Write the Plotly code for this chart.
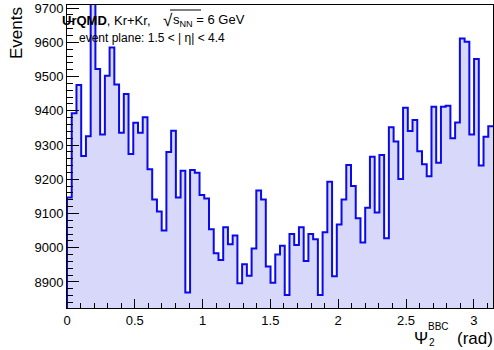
import numpy as np
import plotly.graph_objects as go

# Event-plane angle histogram: 90 bins over [0, pi]
n_bins = 90
psi_min, psi_max = 0.0, np.pi
counts = [
    9147, 9393, 9475, 9268, 9326, 9720, 9522, 9331, 9502, 9585,
    9477, 9336, 9449, 9274, 9365, 9336, 9381, 9229, 9141, 9106,
    9050, 9280, 9342, 9147, 9225, 8869, 9227, 9219, 9154, 9144,
    9054, 8984, 8964, 9060, 9010, 9036, 8896, 8952, 8918, 8998,
    9167, 9141, 8945, 8898, 8980, 9006, 8862, 9040, 9008, 9060,
    8961, 9040, 9025, 8862, 9045, 9193, 8917, 9068, 9141, 9242,
    9180, 9086, 9015, 9117, 9266, 9103, 9271, 9028, 9352, 9310,
    9201, 9409, 9341, 9373, 9282, 9244, 9209, 9412, 9248, 9412,
    9415, 9320, 9366, 9611, 9602, 9331, 9551, 9240, 9324, 9355,
]
y_range = [8824, 9709]
x_ticks = [0, 0.5, 1, 1.5, 2, 2.5, 3]
x_ticklabels = ["0", "0.5", "1", "1.5", "2", "2.5", "3"]
y_ticks = list(range(8900, 9701, 100))

edges = np.linspace(psi_min, psi_max, n_bins + 1)
# step outline: start on the frame floor, then one point per bin, close at the last edge
xs = [edges[0]] + list(edges[:-1]) + [edges[-1]]
ys = [y_range[0]] + list(counts) + [counts[-1]]

W, H = 494, 350
L, R, T, B = 67, 1, 5, 42
PW, PH = W - L - R, H - T - B


def px(x):
    return (x - L) / PW


def py(y):
    return (H - B - y) / PH


FONT = "Liberation Sans, Arial, Helvetica, sans-serif"

fig = go.Figure()
fig.add_trace(go.Scatter(
    x=xs, y=ys, mode="lines", line_shape="hv",
    line=dict(color="#0a0aeb", width=2),
    fill="tozeroy", fillcolor="rgb(216,216,250)",
    hoverinfo="skip", showlegend=False,
))

axis_common = dict(
    showline=True, linecolor="black", linewidth=1, mirror=True,
    showgrid=False, zeroline=False, ticks="inside", tickcolor="black",
    tickfont=dict(family=FONT, size=13, color="black"),
)
fig.update_xaxes(
    range=[psi_min, psi_max], tickmode="array", tickvals=x_ticks,
    ticktext=x_ticklabels, ticklen=9,
    minor=dict(dtick=0.1, tick0=0, ticklen=5, ticks="inside",
               tickcolor="black", showgrid=False),
    **axis_common,
)
fig.update_yaxes(
    range=y_range, tickmode="array", tickvals=y_ticks, ticklen=12,
    minor=dict(dtick=20, tick0=0, ticklen=6, ticks="inside",
               tickcolor="black", showgrid=False),
    **axis_common,
)

ann = []


def text(s, x, y, size, xanchor="left", yanchor="middle", angle=0):
    ann.append(dict(
        text=s, x=px(x), y=py(y), xref="paper", yref="paper",
        xanchor=xanchor, yanchor=yanchor, showarrow=False, textangle=angle,
        font=dict(family=FONT, size=size, color="black"),
    ))


# axis titles
text("Events", 16, 5, 17, xanchor="center", yanchor="top", angle=-90)
text("\u03a8", 412, 338, 17)
text("BBC", 426, 326, 10)
text("2", 427, 342, 10)
text("(rad)", 455, 338, 17)

# header
text("<b>UrQMD</b>, Kr+Kr,", 60, 20, 13)
text("\u221a", 161, 21, 17)
text("s<sub>NN</sub> = 6 GeV", 171, 20, 13)
text("event plane: 1.5 < | \u03b7| < 4.4", 77, 38, 12)

fig.update_layout(
    width=W, height=H,
    margin=dict(l=L, r=R, t=T, b=B, pad=0),
    paper_bgcolor="white", plot_bgcolor="white",
    annotations=ann,
    shapes=[dict(type="line", xref="paper", yref="paper",
                 x0=px(170), x1=px(201), y0=py(10), y1=py(10),
                 line=dict(color="black", width=1))],
)

fig.write_html("out.html")
